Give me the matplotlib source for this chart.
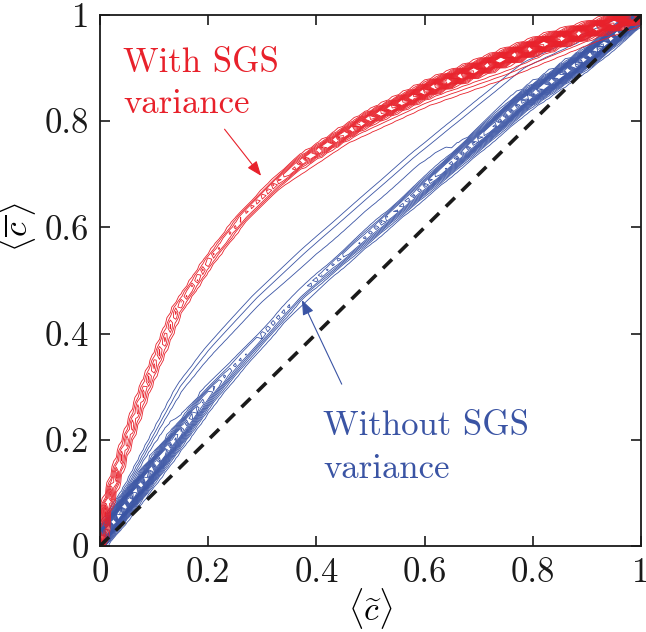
import numpy as np
import matplotlib
matplotlib.use("Agg")
import matplotlib.pyplot as plt

plt.rcParams['mathtext.fontset'] = 'cm'

# ---- data ----
# red ridge (with SGS variance): centreline, relative peak height, half width
red_x = [0.0, 0.01, 0.04, 0.08, 0.142, 0.203, 0.264, 0.327, 0.37, 0.493, 0.616, 0.74, 0.826, 0.96, 1.0]
red_y = [0.0, 0.065, 0.168, 0.288, 0.444, 0.539, 0.62, 0.684, 0.722, 0.802, 0.864, 0.915, 0.947, 0.988, 1.0]
red_amp = [0.5, 0.35, 0.2, 0.17, 0.16, 0.16, 0.18, 0.22, 0.3, 0.5, 0.75, 0.9, 1.0, 1.0, 1.0]
red_w = [0.004, 0.004, 0.0045, 0.005, 0.005, 0.005, 0.005, 0.005, 0.0055, 0.006, 0.0065, 0.0065, 0.0065, 0.006, 0.005]

# red lower shoulder (low-level contours just under the red ridge)
reds_x = [0.3, 0.45, 0.6, 0.75, 0.9, 1.0]
reds_y = [0.662, 0.772, 0.849, 0.903, 0.96, 0.992]
reds_amp = [0.05, 0.1, 0.14, 0.14, 0.1, 0.08]
reds_w = [0.008, 0.01, 0.012, 0.012, 0.01, 0.008]

# blue ridge (without SGS variance): dense lower edge
blue_x = [0.0, 0.05, 0.115, 0.2, 0.246, 0.37, 0.57, 0.78, 0.9, 1.0]
blue_y = [0.01, 0.08, 0.17, 0.285, 0.337, 0.476, 0.652, 0.837, 0.92, 1.0]
blue_amp = [1.0, 0.9, 0.65, 0.35, 0.25, 0.2, 0.35, 0.65, 0.85, 1.0]
blue_w = [0.006, 0.008, 0.009, 0.009, 0.008, 0.007, 0.008, 0.009, 0.008, 0.006]

# blue broad plateau (whole width of the blue band)
blueb_x = [0.0, 0.06, 0.12, 0.17, 0.224, 0.31, 0.397, 0.6, 0.8, 0.92, 1.0]
blueb_y = [0.01, 0.1, 0.2, 0.285, 0.352, 0.445, 0.529, 0.71, 0.88, 0.95, 1.0]
blueb_amp = [0.25, 0.22, 0.16, 0.13, 0.12, 0.115, 0.11, 0.11, 0.1, 0.08, 0.08]
blueb_w = [0.008, 0.013, 0.02, 0.025, 0.028, 0.03, 0.03, 0.03, 0.028, 0.02, 0.01]

diag = [0.0, 1.0]
ticks = [0.0, 0.2, 0.4, 0.6, 0.8, 1.0]
tick_labels = ['0', '0.2', '0.4', '0.6', '0.8', '1']

RED = '#e8212b'
BLUE = '#3a54a4'


def ridge(cx, cy, amp, wid, X, Y, power=2, n=800):
    cx = np.asarray(cx, float); cy = np.asarray(cy, float)
    seg = np.hypot(np.diff(cx), np.diff(cy))
    s = np.concatenate([[0], np.cumsum(seg)])
    t = np.linspace(0, s[-1], n)
    px = np.interp(t, s, cx); py = np.interp(t, s, cy)
    pa = np.interp(t, s, amp); pw = np.interp(t, s, wid)
    P = np.stack([X.ravel(), Y.ravel()], 1)
    d2 = (P[:, None, 0] - px[None, :]) ** 2 + (P[:, None, 1] - py[None, :]) ** 2
    k = np.argmin(d2, axis=1)
    d = np.sqrt(d2[np.arange(len(k)), k])
    f = pa[k] * np.exp(-0.5 * np.abs(d / pw[k]) ** power)
    return f.reshape(X.shape)


N = 101
g = np.linspace(0, 1, N)
X, Y = np.meshgrid(g, g)
Fr = np.maximum(ridge(red_x, red_y, red_amp, red_w, X, Y),
                ridge(reds_x, reds_y, reds_amp, reds_w, X, Y))
Fb = np.maximum(ridge(blue_x, blue_y, blue_amp, blue_w, X, Y),
                ridge(blueb_x, blueb_y, blueb_amp, blueb_w, X, Y, power=4))

levels = np.linspace(0.03, 1.0, 26)

fig = plt.figure(figsize=(6.46, 6.32), dpi=100)
ax = fig.add_axes([0.1548, 0.1361, 0.8375, 0.8402])

ax.contour(X, Y, Fb, levels=levels, colors=BLUE, linewidths=0.6)
ax.contour(X, Y, Fr, levels=levels, colors=RED, linewidths=0.6)
ax.plot(diag, diag, color='#1a1a1a', lw=2.6, dashes=(3.5, 2.6))

ax.set_xlim(0, 1); ax.set_ylim(0, 1)
ax.set_xticks(ticks); ax.set_yticks(ticks)
ax.set_xticklabels(tick_labels, family='cmr10', fontsize=25)
ax.set_yticklabels(tick_labels, family='cmr10', fontsize=25)
ax.tick_params(direction='in', length=7, width=1.2, top=True, right=True, pad=8, colors='#1a1a1a')
for sp in ax.spines.values():
    sp.set_linewidth(1.3); sp.set_color('#1a1a1a')

ax.set_xlabel(r'$\langle\widetilde{c}\rangle$', fontsize=24, labelpad=-2)
ax.set_ylabel(r'$\langle\overline{c\,}\rangle$', fontsize=24)
ax.yaxis.set_label_coords(-0.115, 0.6)

ax.text(0.0425, 0.893, 'With SGS', color=RED, family='cmr10', fontsize=25)
ax.text(0.0425, 0.815, 'variance', color=RED, family='cmr10', fontsize=25)
ax.text(0.412, 0.209, 'Without SGS', color=BLUE, family='cmr10', fontsize=25)
ax.text(0.412, 0.128, 'variance', color=BLUE, family='cmr10', fontsize=25)

ax.annotate('', xy=(0.301, 0.693), xytext=(0.227, 0.789),
            arrowprops=dict(arrowstyle='-|>,head_length=0.9,head_width=0.35', color=RED, lw=0.8))
ax.annotate('', xy=(0.371, 0.468), xytext=(0.449, 0.30),
            arrowprops=dict(arrowstyle='-|>,head_length=0.9,head_width=0.35', color=BLUE, lw=0.8))

fig.savefig('out.png', dpi=100)
